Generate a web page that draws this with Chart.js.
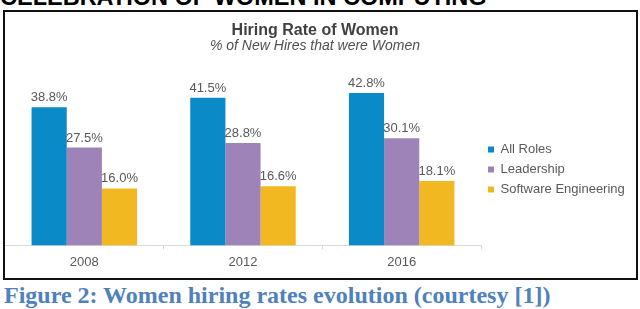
<!DOCTYPE html>
<html>
<head>
<meta charset="utf-8">
<script src="https://cdn.jsdelivr.net/npm/chart.js@4/dist/chart.umd.min.js"></script>
<style>
  html, body { margin: 0; padding: 0; background: #fff; width: 640px; height: 309px; overflow: hidden; position: relative; }
  #heading { position: absolute; left: 0; top: -13.6px; font: bold 23.5px Arial, "Liberation Sans", sans-serif; line-height: 22px; color: #000; white-space: nowrap; }
  #box { position: absolute; left: 3px; top: 10px; width: 635px; height: 270px; border: 2px solid #111; box-sizing: border-box; }
  #chart { position: absolute; left: 5px; top: 12px; }
  #caption { position: absolute; left: 4px; top: 283px; font: bold 24px "Liberation Serif", "Times New Roman", serif; line-height: 24px; color: #4f81bd; white-space: nowrap; }
</style>
</head>
<body>
<div id="heading">CELEBRATION OF WOMEN IN COMPUTING</div>
<div id="box"></div>
<canvas id="chart" width="625" height="266"></canvas>
<div id="caption">Figure 2: Women hiring rates evolution (courtesy [1])</div>
<script>
const years = ['2008', '2012', '2016'];
const allRoles = [38.8, 41.5, 42.8];
const leadership = [27.5, 28.8, 30.1];
const softwareEng = [16.0, 16.6, 18.1];

const FONT = 'Arial, "Liberation Sans", sans-serif';
const GRAY = '#595959';

// value labels above each bar
const barLabels = {
  id: 'barLabels',
  afterDatasetsDraw(chart) {
    const ctx = chart.ctx;
    ctx.save();
    ctx.font = '13px ' + FONT;
    ctx.fillStyle = GRAY;
    ctx.textAlign = 'center';
    ctx.textBaseline = 'alphabetic';
    chart.data.datasets.forEach((ds, i) => {
      chart.getDatasetMeta(i).data.forEach((bar, j) => {
        ctx.fillText(ds.data[j].toFixed(1) + '%', bar.x, bar.y - 6);
      });
    });
    ctx.restore();
  }
};

new Chart(document.getElementById('chart'), {
  type: 'bar',
  data: {
    labels: years,
    datasets: [
      { label: 'All Roles', data: allRoles, backgroundColor: '#0a8ac6' },
      { label: 'Leadership', data: leadership, backgroundColor: '#9e83b9' },
      { label: 'Software Engineering', data: softwareEng, backgroundColor: '#f2b822' }
    ]
  },
  options: {
    responsive: false,
    animation: false,
    events: [],
    layout: { padding: { left: 0, right: 5, top: 0, bottom: 3 } },
    datasets: { bar: { categoryPercentage: 0.665, barPercentage: 1.0 } },
    scales: {
      x: {
        offset: true,
        grid: { display: true, drawOnChartArea: false, offset: true, tickLength: 4, color: '#d9d9d9' },
        border: { display: true, color: '#d9d9d9' },
        ticks: { color: GRAY, font: { family: FONT, size: 13 }, padding: 5 }
      },
      y: { display: false, min: 0, max: 50 }
    },
    plugins: {
      title: {
        display: true,
        text: 'Hiring Rate of Women',
        color: '#404040',
        font: { family: FONT, size: 16, weight: 'bold', lineHeight: 1 },
        padding: { top: 11, bottom: 0 }
      },
      subtitle: {
        display: true,
        text: '% of New Hires that were Women',
        color: '#505050',
        font: { family: FONT, size: 14, style: 'italic', lineHeight: 1 },
        padding: { top: 0, bottom: 14.5 }
      },
      legend: {
        position: 'right',
        align: 'center',
        maxWidth: 144,
        title: { display: true, text: '', font: { size: 13, lineHeight: 1 }, padding: { top: 39, bottom: 0 } },
        labels: {
          boxWidth: 6,
          boxHeight: 6,
          padding: 7,
          color: GRAY,
          font: { family: FONT, size: 13 }
        }
      },
      tooltip: { enabled: false }
    }
  },
  plugins: [barLabels]
});
</script>
</body>
</html>
